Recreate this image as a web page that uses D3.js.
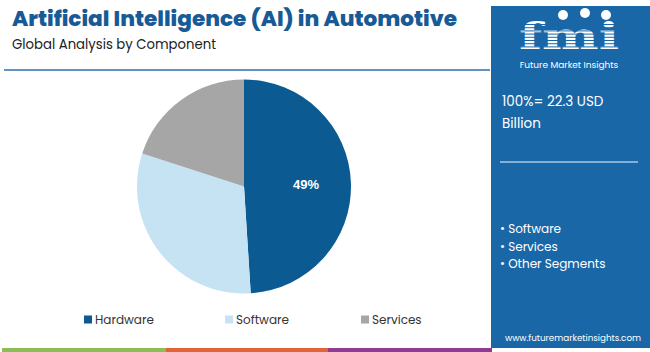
<!DOCTYPE html>
<html><head><meta charset="utf-8">
<script src="https://cdn.jsdelivr.net/npm/d3@7"></script>
<style>body{margin:0;background:#fff;}svg{display:block;font-family:"Poppins","Lato","Open Sans",sans-serif;}</style>
</head><body><svg id="c" width="650" height="352"></svg>
<script>
const categories = ["Hardware", "Software", "Services"];
const shares = [49, 31, 20];
const colors = ["#0b5a92", "#c6e3f4", "#a6a6a6"];
const panelBullets = ["Software", "Services", "Other Segments"];
const totalLabel = ["100%= 22.3 USD", "Billion"];

const svg = d3.select("#c");
// title
svg.append("text").attr("x", 12).attr("y", 26).attr("font-size", 21).attr("font-weight", 800)
  .attr("fill", "#175a96").attr("textLength", 445).attr("lengthAdjust", "spacingAndGlyphs")
  .text("Artificial Intelligence (AI) in Automotive");
svg.append("text").attr("x", 12).attr("y", 48.5).attr("font-size", 13.5).attr("fill", "#222")
  .attr("textLength", 204).attr("lengthAdjust", "spacingAndGlyphs").text("Global Analysis by Component");
svg.append("line").attr("x1", 4).attr("x2", 490).attr("y1", 70).attr("y2", 70)
  .attr("stroke", "#2f6ea8").attr("stroke-width", 1.5);

// pie
const cx = 244, cy = 186.5, r = 107;
const pie = d3.pie().sort(null).value(d => d.v);
const data = pie(categories.map((c, i) => ({c, v: shares[i], col: colors[i]})));
const arc = d3.arc().innerRadius(0).outerRadius(r);
const lab = d3.arc().innerRadius(62).outerRadius(62);
const g = svg.append("g").attr("transform", `translate(${cx},${cy})`);
g.selectAll("path").data(data).join("path").attr("d", arc).attr("fill", d => d.data.col);
g.append("text").datum(data[0]).attr("transform", d => `translate(${lab.centroid(d)})`)
  .attr("text-anchor", "middle").attr("dy", "0.35em").attr("font-family", "Liberation Sans, Arial, sans-serif")
  .attr("font-weight", "bold").attr("font-size", 13).attr("fill", "#fff").text(d => d.data.v + "%");

// legend
const legX = [84, 225, 361];
const lg = svg.append("g");
categories.forEach((c, i) => {
  lg.append("rect").attr("x", legX[i]).attr("y", 315.5).attr("width", 8).attr("height", 8).attr("fill", colors[i]);
  lg.append("text").attr("x", legX[i] + 11).attr("y", 324).attr("font-size", 12).attr("fill", "#333").text(c);
});

// bottom bar
svg.append("rect").attr("x", 2).attr("y", 348).attr("width", 164).attr("height", 4).attr("fill", "#8cbd57");
svg.append("rect").attr("x", 166).attr("y", 348).attr("width", 162).attr("height", 4).attr("fill", "#e0663a");
svg.append("rect").attr("x", 328).attr("y", 348).attr("width", 164).attr("height", 4).attr("fill", "#8e3b93");

// right panel
svg.append("rect").attr("x", 491).attr("y", 6).attr("width", 159).attr("height", 342).attr("fill", "#1a67a8");
// logo
svg.append("text").attr("x", 569).attr("y", 49).attr("text-anchor", "middle").attr("font-family", "DejaVu Serif, serif")
  .attr("font-weight", "bold").attr("font-size", 37).attr("fill", "#fff").attr("textLength", 100)
  .attr("lengthAdjust", "spacingAndGlyphs").text("fmi");
for (let y = 24; y < 50; y += 3.2) {
  svg.append("rect").attr("x", 515).attr("y", y).attr("width", 110).attr("height", 1).attr("fill", "#1a67a8");
}
[[563, 15], [585, 13], [606, 15]].forEach(([x, y]) => {
  svg.append("circle").attr("cx", x).attr("cy", y).attr("r", 5).attr("fill", "#fff");
});
svg.append("text").attr("x", 569).attr("y", 67.5).attr("text-anchor", "middle").attr("font-size", 9)
  .attr("fill", "#fff").text("Future Market Insights");

svg.append("text").attr("x", 502).attr("y", 106).attr("font-size", 13.5).attr("fill", "#fff").text(totalLabel[0]);
svg.append("text").attr("x", 502).attr("y", 128).attr("font-size", 13.5).attr("fill", "#fff").text(totalLabel[1]);
svg.append("line").attr("x1", 500).attr("x2", 638).attr("y1", 162).attr("y2", 162).attr("stroke", "#a9c8e6").attr("stroke-width", 1.5);
panelBullets.forEach((b, i) => {
  svg.append("text").attr("x", 500).attr("y", 233 + i * 17.5).attr("font-size", 12).attr("fill", "#fff").text("• " + b);
});
svg.append("text").attr("x", 505).attr("y", 341).attr("font-size", 9).attr("fill", "#fff")
  .attr("textLength", 136).attr("lengthAdjust", "spacingAndGlyphs").text("www.futuremarketinsights.com");
</script></body></html>
